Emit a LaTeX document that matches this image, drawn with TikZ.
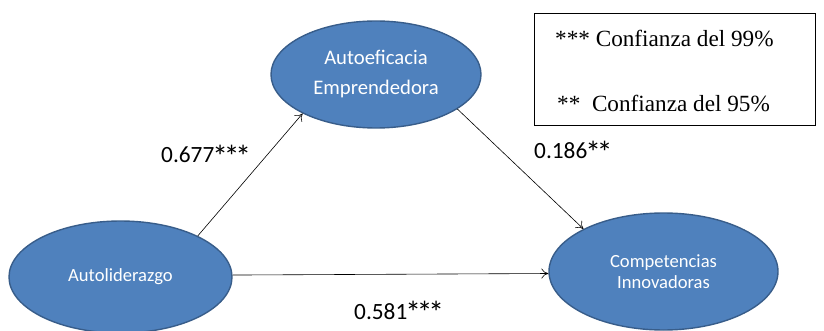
\documentclass[tikz,border=0pt]{standalone}
\usepackage{fontspec}
\setmainfont{Liberation Serif}
\newfontfamily\calib{Carlito}
\usetikzlibrary{shapes.geometric,arrows.meta}
\definecolor{ellfill}{HTML}{4F81BD}
\definecolor{elldraw}{HTML}{385D8A}
\newcommand\bigstar{\makebox[11.6pt]{\raisebox{-4.5pt}{\scalebox{1.35}{*}}}}
\tikzset{
  construct/.style={ellipse, draw=elldraw, fill=ellfill, line width=1.4pt, inner sep=0pt, text=white, align=center},
  pathcoef/.style={font=\calib\fontsize{23.3}{26}\selectfont, anchor=base west, inner sep=0pt},
  legendtext/.style={font=\fontsize{23.2}{26}\selectfont, anchor=base west, inner sep=0pt},
  conn/.style={draw=black, line width=0.6pt, -{To[length=7pt,width=10pt]}}
}
\begin{document}
\begin{tikzpicture}[x=1pt,y=-1pt]
\useasboundingbox (0,0) rectangle (824,331);
\node[construct, minimum width=210pt, minimum height=107pt, font=\calib\fontsize{20.7}{30}\selectfont] (T) at (376,74.5) {Autoeficacia\\Emprendedora};
\node[construct, minimum width=223pt, minimum height=112pt, font=\calib\fontsize{18.6}{21}\selectfont] (L) at (120.5,277) {Autoliderazgo};
\node[construct, minimum width=229pt, minimum height=117pt, font=\calib\fontsize{18.6}{21}\selectfont] (R) at (663.5,271.5) {Competencias\\Innovadoras};
\node[draw=black, line width=1.1pt, minimum width=281pt, minimum height=112pt, anchor=north west, inner sep=0pt] (box) at (534,13) {};
\node[legendtext] (l1) at (555,47) {*** Confianza del 99\%};
\node[legendtext] (l2) at (557,112) {**\ \ Confianza del 95\%};
\draw[conn] (L.28.5) -- (T.208.5);
\draw[conn] (T.-23.1) -- (R.152.7);
\draw[conn] (L.1) -- (R.181.5);
\node[pathcoef] (c1) at (161,163) {0.677\bigstar\bigstar\bigstar};
\node[pathcoef] (c2) at (534,159) {0.186\bigstar\bigstar};
\node[pathcoef] (c3) at (354,319) {0.581\bigstar\bigstar\bigstar};
\end{tikzpicture}
\end{document}
